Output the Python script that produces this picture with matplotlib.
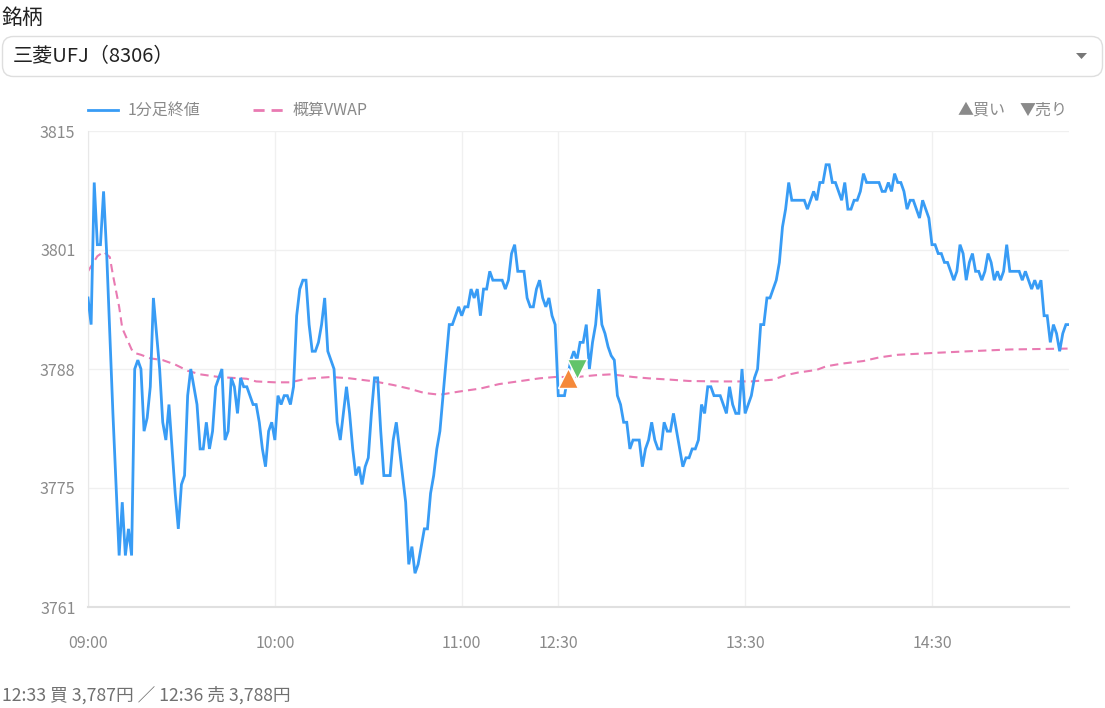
import numpy as np
import matplotlib
matplotlib.use("Agg")
import matplotlib.pyplot as plt
from matplotlib.patches import FancyBboxPatch, Polygon
from matplotlib.lines import Line2D

plt.rcParams['font.family'] = ['Noto Sans CJK JP', 'DejaVu Sans']

# --- data -------------------------------------------------------------
# 1-minute close, one value per session slot (slot 0 = 09:00, lunch removed)
close_prices = [
    3796, 3793, 3809, 3802, 3802, 3808, 3801, 3792, 3783, 3775,
    3767, 3773, 3767, 3770, 3767, 3788, 3789, 3788, 3781, 3782.5,
    3786, 3796, 3792, 3788, 3782, 3780, 3784, 3779, 3774, 3770,
    3775, 3776, 3785, 3788, 3786, 3784, 3779, 3779, 3782, 3779,
    3781, 3786, 3787, 3788, 3780, 3781, 3787, 3786, 3783, 3787,
    3786, 3786, 3785, 3784, 3784, 3782, 3779, 3777, 3781, 3782,
    3780, 3785, 3784, 3785, 3785, 3784, 3786, 3794, 3797, 3798,
    3798, 3793, 3790, 3790, 3791, 3793, 3796, 3790, 3789, 3788,
    3782, 3780, 3783, 3786, 3783, 3779, 3776, 3777, 3775, 3777,
    3778, 3783, 3787, 3787, 3781, 3776, 3776, 3776, 3780, 3782,
    3779, 3776, 3773, 3766, 3768, 3765, 3766, 3768, 3770, 3770,
    3774, 3776, 3779, 3781, 3785, 3789, 3793, 3793, 3794, 3795,
    3794, 3795, 3795, 3797, 3796, 3797, 3794, 3797, 3797, 3799,
    3798, 3798, 3798, 3798, 3797, 3798, 3801, 3802, 3799, 3799,
    3799, 3796, 3795, 3795, 3797, 3798, 3796, 3795, 3796, 3794,
    3793,
    # afternoon from 12:30
    3785, 3785, 3785, 3787, 3789, 3790, 3789, 3791, 3791,
    3793, 3788, 3791, 3793, 3797, 3793, 3792, 3790.5, 3789.5, 3789,
    3785, 3784, 3782, 3782, 3779, 3780, 3780, 3780, 3777, 3779,
    3780, 3782, 3780, 3779, 3779, 3782, 3781, 3781, 3783, 3781,
    3779, 3777, 3778, 3778, 3779, 3779, 3780, 3784, 3783, 3786,
    3786, 3785, 3785, 3785, 3784, 3783, 3786, 3784, 3783, 3783,
    3788, 3783, 3784, 3785, 3787, 3788, 3793, 3793, 3796, 3796,
    3797, 3798, 3800, 3804, 3806, 3809, 3807, 3807, 3807, 3807,
    3807, 3806, 3807, 3808, 3807, 3809, 3809, 3811, 3811, 3809,
    3809, 3808, 3807, 3809, 3806, 3806, 3807, 3807, 3808, 3810,
    3809, 3809, 3809, 3809, 3809, 3808, 3808, 3809, 3808, 3810,
    3809, 3809, 3808, 3806, 3807, 3807, 3806, 3805, 3807, 3806,
    3805, 3802, 3802, 3801, 3801, 3800, 3800, 3799, 3798, 3799,
    3802, 3801, 3798, 3800, 3801, 3799, 3799, 3798, 3799, 3801,
    3800, 3798, 3799, 3798, 3799, 3802, 3799, 3799, 3799, 3799,
    3798, 3799, 3798, 3797, 3798, 3797, 3798, 3794, 3794, 3791,
    3793, 3792, 3790, 3792, 3793, 3793,
]

vwap_slots = [0, 3, 5, 7, 8, 10, 11, 14, 15, 17, 20, 24, 28, 32, 36, 42,
              51, 54, 60, 65, 70, 78, 84, 92, 98, 103, 108, 113, 119, 126,
              132, 139, 145, 150, 157, 163, 168, 175, 180, 187, 193, 202,
              213, 220, 224, 228, 234, 237, 242, 249, 254, 260, 271, 283,
              296, 315]
vwap_values = [3799.0, 3800.7, 3801.2, 3800.6, 3798.6, 3795.0, 3792.6, 3790.2,
               3789.8, 3789.6, 3789.2, 3789.0, 3788.5, 3787.8, 3787.4, 3787.1,
               3786.9, 3786.6, 3786.5, 3786.5, 3786.9, 3787.1, 3786.95, 3786.6,
               3786.2, 3785.8, 3785.3, 3785.1, 3785.45, 3785.8, 3786.3, 3786.65,
               3786.95, 3787.1, 3787.1, 3787.3, 3787.4, 3787.1, 3786.95, 3786.8,
               3786.65, 3786.6, 3786.6, 3786.8, 3787.3, 3787.6, 3787.9, 3788.3,
               3788.6, 3788.9, 3789.3, 3789.6, 3789.8, 3790.0, 3790.2, 3790.3]

trade_times = ["12:33", "12:36"]
trade_prices = [3787, 3788]
trade_sides = ["buy", "sell"]

x_tick_labels = ["09:00", "10:00", "11:00", "12:30", "13:30", "14:30"]
y_low, y_high = 3761.2, 3814.8

BLUE = "#389cf5"
PINK = "#e97ab2"
ORANGE = "#f5893a"
GREEN = "#62c46b"
GREY = "#8a8a8a"


def slot_of(hhmm):
    h, m = map(int, hhmm.split(":"))
    t = h * 60 + m
    if t <= 11 * 60 + 30:
        return t - 9 * 60
    return 151 + t - (12 * 60 + 30)


W, H = 1105, 708
fig = plt.figure(figsize=(W / 100, H / 100), dpi=100)
fig.patch.set_facecolor("white")

# overlay in pixel coordinates for the page furniture
ov = fig.add_axes([0, 0, 1, 1])
ov.set_xlim(0, W)
ov.set_ylim(H, 0)
ov.axis("off")

ov.text(2, 18, "銘柄", fontsize=15, color="#222222", va="center", ha="left")
ov.add_patch(FancyBboxPatch((2.5, 36.5), 1100, 40,
                            boxstyle="round,pad=0,rounding_size=11",
                            fc="white", ec="#dedede", lw=1))
ov.text(13, 57, "三菱UFJ（8306）", fontsize=14.5, color="#222222",
        va="center", ha="left")
ov.add_patch(Polygon([[1076, 53], [1087, 53], [1081.5, 59]], closed=True,
                     fc="#777777", ec="none"))

# legend
ov.add_line(Line2D([88, 118], [110, 110], color=BLUE, lw=2))
ov.text(128, 110, "1分足終値", fontsize=11.5, color=GREY, va="center")
ov.add_line(Line2D([253, 284], [110, 110], color=PINK, lw=2,
                   dashes=(4, 2.5)))
ov.text(293, 110, "概算VWAP", fontsize=11.5, color=GREY, va="center")
ov.text(958, 110, "▲買い", fontsize=11.5, color=GREY, va="center")
ov.text(1068, 110, "▼売り", fontsize=11.5, color=GREY, va="center", ha="right")

ov.text(2, 695, "12:33 買 3,787円 ／ 12:36 売 3,788円", fontsize=12.7,
        color="#707070", va="center", ha="left")

# main chart
ax = fig.add_axes([88 / W, (H - 607) / H, 981 / W, 476 / H])
slots = np.arange(len(close_prices))
ax.plot(slots, close_prices, color=BLUE, lw=2.0, zorder=3,
        solid_joinstyle="miter")
ax.plot(vwap_slots, vwap_values, color=PINK, lw=1.5, dashes=(4, 2.5),
        zorder=2)

for t, p, side in zip(trade_times, trade_prices, trade_sides):
    mk = "^" if side == "buy" else "v"
    col = ORANGE if side == "buy" else GREEN
    ax.plot(slot_of(t), p, marker=mk, ms=14, color=col, mec="white",
            mew=1, zorder=5)

ax.set_xlim(0, len(close_prices) - 1)
ax.set_ylim(y_low, y_high)
yt = np.linspace(y_low, y_high, 5)
ax.set_yticks(yt)
ax.set_yticklabels([f"{v:.0f}" for v in yt])
ax.set_xticks([slot_of(s) for s in x_tick_labels])
ax.set_xticklabels(x_tick_labels)
ax.tick_params(length=0, labelsize=11.5, labelcolor=GREY)
ax.tick_params(axis="y", pad=9)
ax.tick_params(axis="x", pad=20)
ax.grid(True, color="#f0f0f0", lw=1)
ax.set_axisbelow(True)
for side in ["top", "right"]:
    ax.spines[side].set_visible(False)
ax.spines["left"].set_color("#e8e8e8")
ax.spines["bottom"].set_color("#e0e0e0")
ax.spines["bottom"].set_linewidth(1.5)

fig.savefig("out.png", dpi=100)
